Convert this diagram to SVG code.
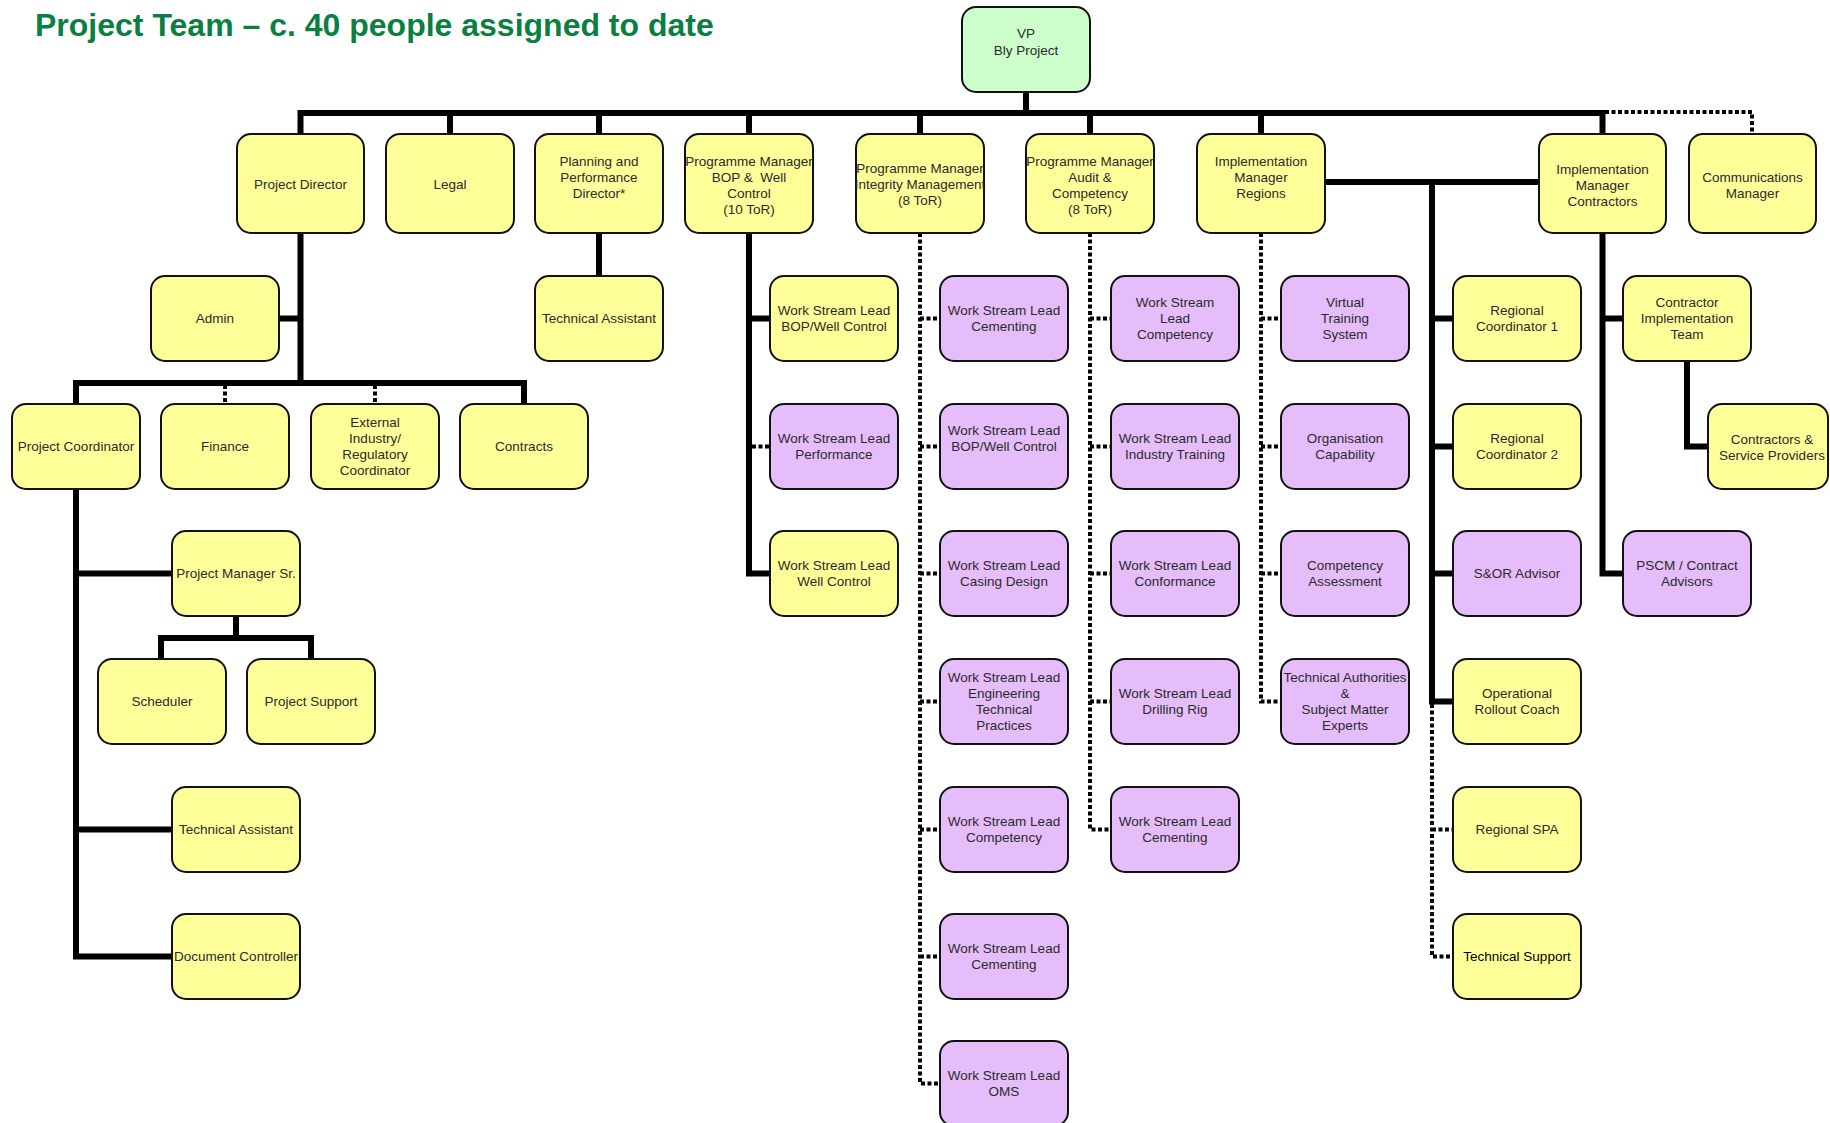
<svg xmlns="http://www.w3.org/2000/svg" width="1830" height="1123" viewBox="0 0 1830 1123">
<style>
.bg{fill:#ffffff}
.title{font-family:"Liberation Sans",Arial,sans-serif;font-weight:bold;font-size:32px;fill:#0a7f3f}
rect.b{stroke:#111;stroke-width:2}
.y{fill:#ffff99}
.p{fill:#e6bdfb}
.g{fill:#ccffcc}
text.t{font-family:"Liberation Sans",Arial,sans-serif;font-size:13.5px;fill:#2a2a2a;text-anchor:middle}
.s{fill:none;stroke:#000;stroke-width:6}
.d{fill:none;stroke:#000;stroke-width:4;stroke-dasharray:4 2.5}
</style>
<rect class="bg" x="0" y="0" width="1830" height="1123"/>
<text class="title" x="35" y="36">Project Team – c. 40 people assigned to date</text>

<g id="connectors">
  <path class="s" d="M1026 92 V113"/>
  <path class="s" d="M300.5 134 V113 H1602.5 V134"/>
  <path class="s" d="M450 113 V134 M599 113 V134 M749 113 V134 M920 113 V134 M1090 113 V134 M1261 113 V134"/>
  <path class="d" d="M1605 112 H1752 V134"/>
  <path class="s" d="M300.5 233 V383 M279 318.5 H300.5"/>
  <path class="s" d="M76 404 V383 H524 V404"/>
  <path class="d" d="M225 385 V404 M375 385 V404"/>
  <path class="s" d="M76 489 V956.5 H172 M76 573.5 H172 M76 829.5 H172"/>
  <path class="s" d="M236 616 V638 H161 V659 M236 638 H311 V659"/>
  <path class="s" d="M599 233 V276"/>
  <path class="s" d="M749 233 V573.5 H770 M749 318.5 H770"/>
  <path class="d" d="M752 446.5 H770"/>
  <path class="d" d="M920 233 V1083.5 H940 M920 318.5 H940 M920 446.5 H940 M920 573.5 H940 M920 701.5 H940 M920 829.5 H940 M920 956.5 H940"/>
  <path class="d" d="M1090 233 V829.5 H1111 M1090 318.5 H1111 M1090 446.5 H1111 M1090 573.5 H1111 M1090 701.5 H1111"/>
  <path class="d" d="M1261 233 V701.5 H1281 M1261 318.5 H1281 M1261 446.5 H1281 M1261 573.5 H1281"/>
  <path class="s" d="M1325 182 H1539 M1432 182 V701.5 H1453 M1432 318.5 H1453 M1432 446.5 H1453 M1432 573.5 H1453"/>
  <path class="d" d="M1432 704 V956.5 H1453 M1432 829.5 H1453"/>
  <path class="s" d="M1602.5 233 V573.5 H1623 M1602.5 318.5 H1623"/>
  <path class="s" d="M1687 361 V446.5 H1708"/>
</g>

<g id="vp"><rect class="b g" x="962" y="7" width="128" height="85" rx="14"/><text class="t" x="1026"><tspan x="1026" y="38">VP</tspan><tspan x="1026" y="55">Bly Project</tspan></text></g>

<g id="project-director"><rect class="b y" x="237" y="134" width="127" height="99" rx="14"/><text class="t" x="300.5" y="189">Project Director</text></g>
<g id="legal"><rect class="b y" x="386" y="134" width="128" height="99" rx="14"/><text class="t" x="450" y="189">Legal</text></g>
<g id="planning"><rect class="b y" x="535" y="134" width="128" height="99" rx="14"/><text class="t"><tspan x="599" y="166">Planning and</tspan><tspan x="599" y="182">Performance</tspan><tspan x="599" y="198">Director*</tspan></text></g>
<g id="pm-bop"><rect class="b y" x="685" y="134" width="128" height="99" rx="14"/><text class="t" xml:space="preserve"><tspan x="749" y="166">Programme Manager</tspan><tspan x="749" y="182">BOP &amp;  Well</tspan><tspan x="749" y="198">Control</tspan><tspan x="749" y="214">(10 ToR)</tspan></text></g>
<g id="pm-integrity"><rect class="b y" x="856" y="134" width="128" height="99" rx="14"/><text class="t"><tspan x="920" y="173">Programme Manager</tspan><tspan x="920" y="189">Integrity Management</tspan><tspan x="920" y="205">(8 ToR)</tspan></text></g>
<g id="pm-audit"><rect class="b y" x="1026" y="134" width="128" height="99" rx="14"/><text class="t"><tspan x="1090" y="166">Programme Manager</tspan><tspan x="1090" y="182">Audit &amp;</tspan><tspan x="1090" y="198">Competency</tspan><tspan x="1090" y="214">(8 ToR)</tspan></text></g>
<g id="im-regions"><rect class="b y" x="1197" y="134" width="128" height="99" rx="14"/><text class="t"><tspan x="1261" y="166">Implementation</tspan><tspan x="1261" y="182">Manager</tspan><tspan x="1261" y="198">Regions</tspan></text></g>
<g id="im-contractors"><rect class="b y" x="1539" y="134" width="127" height="99" rx="14"/><text class="t"><tspan x="1602.5" y="174">Implementation</tspan><tspan x="1602.5" y="190">Manager</tspan><tspan x="1602.5" y="206">Contractors</tspan></text></g>
<g id="comms"><rect class="b y" x="1689" y="134" width="127" height="99" rx="14"/><text class="t"><tspan x="1752.5" y="182">Communications</tspan><tspan x="1752.5" y="198">Manager</tspan></text></g>

<g id="admin"><rect class="b y" x="151" y="276" width="128" height="85" rx="14"/><text class="t" x="215" y="323">Admin</text></g>
<g id="tech-assistant-planning"><rect class="b y" x="535" y="276" width="128" height="85" rx="14"/><text class="t" x="599" y="323">Technical Assistant</text></g>

<g id="project-coordinator"><rect class="b y" x="12" y="404" width="128" height="85" rx="14"/><text class="t" x="76" y="451">Project Coordinator</text></g>
<g id="finance"><rect class="b y" x="161" y="404" width="128" height="85" rx="14"/><text class="t" x="225" y="451">Finance</text></g>
<g id="external"><rect class="b y" x="311" y="404" width="128" height="85" rx="14"/><text class="t"><tspan x="375" y="427">External</tspan><tspan x="375" y="443">Industry/</tspan><tspan x="375" y="459">Regulatory</tspan><tspan x="375" y="475">Coordinator</tspan></text></g>
<g id="contracts"><rect class="b y" x="460" y="404" width="128" height="85" rx="14"/><text class="t" x="524" y="451">Contracts</text></g>

<g id="pm-sr"><rect class="b y" x="172" y="531" width="128" height="85" rx="14"/><text class="t" x="236" y="578">Project Manager Sr.</text></g>
<g id="scheduler"><rect class="b y" x="98" y="659" width="128" height="85" rx="14"/><text class="t" x="162" y="706">Scheduler</text></g>
<g id="project-support"><rect class="b y" x="247" y="659" width="128" height="85" rx="14"/><text class="t" x="311" y="706">Project Support</text></g>
<g id="tech-assistant-left"><rect class="b y" x="172" y="787" width="128" height="85" rx="14"/><text class="t" x="236" y="834">Technical Assistant</text></g>
<g id="doc-controller"><rect class="b y" x="172" y="914" width="128" height="85" rx="14"/><text class="t" x="236" y="961">Document Controller</text></g>

<g id="wsl-bop-well"><rect class="b y" x="770" y="276" width="128" height="85" rx="14"/><text class="t"><tspan x="834" y="315">Work Stream Lead</tspan><tspan x="834" y="331">BOP/Well Control</tspan></text></g>
<g id="wsl-performance"><rect class="b p" x="770" y="404" width="128" height="85" rx="14"/><text class="t"><tspan x="834" y="443">Work Stream Lead</tspan><tspan x="834" y="459">Performance</tspan></text></g>
<g id="wsl-well-control"><rect class="b y" x="770" y="531" width="128" height="85" rx="14"/><text class="t"><tspan x="834" y="570">Work Stream Lead</tspan><tspan x="834" y="586">Well Control</tspan></text></g>

<g id="wsl-cementing-1"><rect class="b p" x="940" y="276" width="128" height="85" rx="14"/><text class="t"><tspan x="1004" y="315">Work Stream Lead</tspan><tspan x="1004" y="331">Cementing</tspan></text></g>
<g id="wsl-bop-well-2"><rect class="b p" x="940" y="404" width="128" height="85" rx="14"/><text class="t"><tspan x="1004" y="435">Work Stream Lead</tspan><tspan x="1004" y="451">BOP/Well Control</tspan></text></g>
<g id="wsl-casing"><rect class="b p" x="940" y="531" width="128" height="85" rx="14"/><text class="t"><tspan x="1004" y="570">Work Stream Lead</tspan><tspan x="1004" y="586">Casing Design</tspan></text></g>
<g id="wsl-engineering"><rect class="b p" x="940" y="659" width="128" height="85" rx="14"/><text class="t"><tspan x="1004" y="682">Work Stream Lead</tspan><tspan x="1004" y="698">Engineering</tspan><tspan x="1004" y="714">Technical</tspan><tspan x="1004" y="730">Practices</tspan></text></g>
<g id="wsl-competency-1"><rect class="b p" x="940" y="787" width="128" height="85" rx="14"/><text class="t"><tspan x="1004" y="826">Work Stream Lead</tspan><tspan x="1004" y="842">Competency</tspan></text></g>
<g id="wsl-cementing-2"><rect class="b p" x="940" y="914" width="128" height="85" rx="14"/><text class="t"><tspan x="1004" y="953">Work Stream Lead</tspan><tspan x="1004" y="969">Cementing</tspan></text></g>
<g id="wsl-oms"><rect class="b p" x="940" y="1041" width="128" height="85" rx="14"/><text class="t"><tspan x="1004" y="1080">Work Stream Lead</tspan><tspan x="1004" y="1096">OMS</tspan></text></g>

<g id="wsl-competency-2"><rect class="b p" x="1111" y="276" width="128" height="85" rx="14"/><text class="t"><tspan x="1175" y="307">Work Stream</tspan><tspan x="1175" y="323">Lead</tspan><tspan x="1175" y="339">Competency</tspan></text></g>
<g id="wsl-industry-training"><rect class="b p" x="1111" y="404" width="128" height="85" rx="14"/><text class="t"><tspan x="1175" y="443">Work Stream Lead</tspan><tspan x="1175" y="459">Industry Training</tspan></text></g>
<g id="wsl-conformance"><rect class="b p" x="1111" y="531" width="128" height="85" rx="14"/><text class="t"><tspan x="1175" y="570">Work Stream Lead</tspan><tspan x="1175" y="586">Conformance</tspan></text></g>
<g id="wsl-drilling-rig"><rect class="b p" x="1111" y="659" width="128" height="85" rx="14"/><text class="t"><tspan x="1175" y="698">Work Stream Lead</tspan><tspan x="1175" y="714">Drilling Rig</tspan></text></g>
<g id="wsl-cementing-3"><rect class="b p" x="1111" y="787" width="128" height="85" rx="14"/><text class="t"><tspan x="1175" y="826">Work Stream Lead</tspan><tspan x="1175" y="842">Cementing</tspan></text></g>

<g id="virtual-training"><rect class="b p" x="1281" y="276" width="128" height="85" rx="14"/><text class="t"><tspan x="1345" y="307">Virtual</tspan><tspan x="1345" y="323">Training</tspan><tspan x="1345" y="339">System</tspan></text></g>
<g id="org-capability"><rect class="b p" x="1281" y="404" width="128" height="85" rx="14"/><text class="t"><tspan x="1345" y="443">Organisation</tspan><tspan x="1345" y="459">Capability</tspan></text></g>
<g id="competency-assessment"><rect class="b p" x="1281" y="531" width="128" height="85" rx="14"/><text class="t"><tspan x="1345" y="570">Competency</tspan><tspan x="1345" y="586">Assessment</tspan></text></g>
<g id="technical-authorities"><rect class="b p" x="1281" y="659" width="128" height="85" rx="14"/><text class="t"><tspan x="1345" y="682">Technical Authorities</tspan><tspan x="1345" y="698">&amp;</tspan><tspan x="1345" y="714">Subject Matter</tspan><tspan x="1345" y="730">Experts</tspan></text></g>

<g id="regional-coordinator-1"><rect class="b y" x="1453" y="276" width="128" height="85" rx="14"/><text class="t"><tspan x="1517" y="315">Regional</tspan><tspan x="1517" y="331">Coordinator 1</tspan></text></g>
<g id="regional-coordinator-2"><rect class="b y" x="1453" y="404" width="128" height="85" rx="14"/><text class="t"><tspan x="1517" y="443">Regional</tspan><tspan x="1517" y="459">Coordinator 2</tspan></text></g>
<g id="sor-advisor"><rect class="b p" x="1453" y="531" width="128" height="85" rx="14"/><text class="t" x="1517" y="578">S&amp;OR Advisor</text></g>
<g id="rollout-coach"><rect class="b y" x="1453" y="659" width="128" height="85" rx="14"/><text class="t"><tspan x="1517" y="698">Operational</tspan><tspan x="1517" y="714">Rollout Coach</tspan></text></g>
<g id="regional-spa"><rect class="b y" x="1453" y="787" width="128" height="85" rx="14"/><text class="t" x="1517" y="834">Regional SPA</text></g>
<g id="technical-support"><rect class="b y" x="1453" y="914" width="128" height="85" rx="14"/><text class="t" x="1517" y="961" style="fill:#000">Technical Support</text></g>

<g id="contractor-impl-team"><rect class="b y" x="1623" y="276" width="128" height="85" rx="14"/><text class="t"><tspan x="1687" y="307">Contractor</tspan><tspan x="1687" y="323">Implementation</tspan><tspan x="1687" y="339">Team</tspan></text></g>
<g id="contractors-service-providers"><rect class="b y" x="1708" y="404" width="120" height="85" rx="14"/><text class="t"><tspan x="1772" y="444">Contractors &amp;</tspan><tspan x="1772" y="460">Service Providers</tspan></text></g>
<g id="pscm"><rect class="b p" x="1623" y="531" width="128" height="85" rx="14"/><text class="t"><tspan x="1687" y="570">PSCM / Contract</tspan><tspan x="1687" y="586">Advisors</tspan></text></g>
</svg>
